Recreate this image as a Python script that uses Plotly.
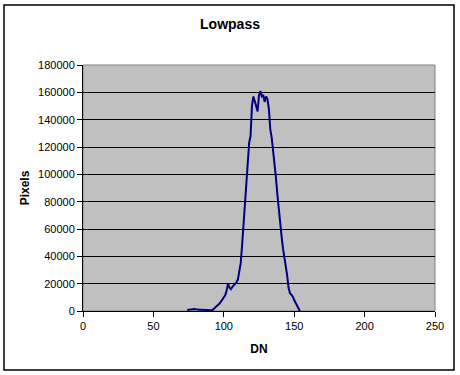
import plotly.graph_objects as go

dn = list(range(74, 155))
pixels = [
    800, 1000, 1100, 1000, 1200, 1500, 1300, 1000, 1000, 900,
    900, 800, 800, 800, 700, 700, 700, 600, 700, 1500,
    2500, 3500, 4500, 5500, 7000, 8000, 10000, 11500, 15000, 20000,
    17000, 16000, 17500, 18500, 20000, 21000, 23000, 28000, 35000, 48000,
    62000, 78000, 92000, 110000, 123000, 128000, 150000, 157000, 154000, 150000,
    146000, 158000, 161000, 157000, 158000, 153000, 157000, 155000, 148000, 133000,
    127000, 118000, 107000, 98000, 86000, 74000, 64000, 55000, 46000, 40000,
    33000, 26000, 17000, 13000, 12000, 10500, 8000, 6000, 4000, 2000,
    0,
]
x_ticks = [0, 50, 100, 150, 200, 250]
y_ticks = list(range(0, 180001, 20000))

FONT = "Liberation Sans, Arial, sans-serif"

fig = go.Figure()
fig.add_trace(go.Scatter(
    x=dn, y=pixels, mode="lines",
    line=dict(color="#000080", width=2),
    showlegend=False, hoverinfo="skip",
))

fig.update_layout(
    width=460, height=375,
    margin=dict(l=83, r=25, t=65, b=64),
    paper_bgcolor="white",
    plot_bgcolor="#C0C0C0",
    font=dict(family=FONT, size=11, color="black"),
    title=dict(text="<b>Lowpass</b>", x=0.5, xanchor="center", y=1 - 24 / 375,
               yanchor="middle", font=dict(size=14, family=FONT)),
    xaxis=dict(
        range=[0, 250], tickvals=x_ticks, ticktext=[str(v) for v in x_ticks],
        showgrid=False, zeroline=False,
        showline=True, linecolor="black", linewidth=1,
        ticks="outside", ticklen=5, tickcolor="black",
        tickfont=dict(size=11),
        title=dict(text="<b>DN</b>", font=dict(size=12), standoff=13),
    ),
    yaxis=dict(
        range=[0, 180000], tickvals=y_ticks, ticktext=[str(v) for v in y_ticks],
        showgrid=True, gridcolor="black", gridwidth=1, zeroline=False,
        showline=True, linecolor="black", linewidth=1,
        ticks="outside", ticklen=5, tickcolor="black",
        tickfont=dict(size=11),
        title=dict(text="<b>Pixels</b>", font=dict(size=12), standoff=5),
    ),
    shapes=[
        dict(type="rect", xref="paper", yref="paper", x0=0, x1=1, y0=0, y1=1,
             line=dict(color="#808080", width=1), fillcolor="rgba(0,0,0,0)", layer="below"),
        dict(type="rect", xref="paper", yref="paper",
             x0=(4 - 83) / 352, x1=(454 - 83) / 352,
             y0=(311 - 370) / 246, y1=(311 - 5) / 246,
             line=dict(color="black", width=1.5), fillcolor="rgba(0,0,0,0)"),
    ],
)

fig.write_html(
    "out.html",
    config={"displayModeBar": False},
    post_script="document.body.style.margin='0';document.body.style.overflow='hidden';",
)
